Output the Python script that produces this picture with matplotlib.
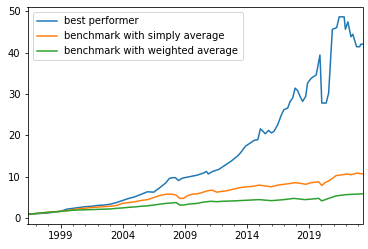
import matplotlib

matplotlib.use("Agg")
import matplotlib.pyplot as plt
from matplotlib.ticker import FixedLocator, MultipleLocator

# values (fractional years)
best_x = [1996.33, 1997.0, 1997.5, 1998.0, 1998.5, 1999.0, 1999.5, 2000.0, 2000.5, 2001.0,
          2001.5, 2002.0, 2002.5, 2003.0, 2003.5, 2004.0, 2004.5, 2005.0, 2005.5, 2006.0,
          2006.5, 2007.0, 2007.5, 2007.75, 2008.0, 2008.25, 2008.5, 2008.75, 2009.0, 2009.5,
          2010.0, 2010.5, 2010.75, 2010.9, 2011.25, 2011.75, 2012.25, 2012.75, 2013.25, 2013.5,
          2013.9, 2014.3, 2014.6, 2014.9, 2015.1, 2015.3, 2015.5, 2015.75, 2016.0, 2016.2,
          2016.5, 2016.8, 2017.0, 2017.3, 2017.5, 2017.7, 2017.9, 2018.1, 2018.3, 2018.5,
          2018.75, 2018.9, 2019.2, 2019.6, 2019.9, 2020.05, 2020.4, 2020.6, 2020.9, 2021.25,
          2021.45, 2021.85, 2021.95, 2022.15, 2022.4, 2022.55, 2022.85, 2023.1, 2023.2, 2023.33]
best_y = [1.0, 1.1, 1.2, 1.3, 1.5, 1.7, 2.2, 2.4, 2.6, 2.8,
          2.9, 3.1, 3.2, 3.4, 3.8, 4.3, 4.8, 5.2, 5.8, 6.4,
          6.3, 7.4, 8.6, 9.6, 9.8, 9.8, 9.1, 9.6, 9.8, 10.1,
          10.4, 10.9, 11.3, 10.7, 11.3, 11.8, 12.8, 13.8, 15.0, 15.8,
          17.4, 18.2, 18.8, 19.0, 21.6, 21.0, 20.4, 21.2, 20.6, 21.0,
          22.6, 25.0, 26.2, 26.6, 28.2, 29.0, 31.4, 30.8, 29.4, 28.2,
          29.4, 32.6, 33.8, 34.6, 39.4, 27.8, 27.8, 30.2, 45.6, 46.0,
          48.6, 48.6, 45.6, 47.4, 43.8, 44.4, 41.4, 41.4, 42.0, 42.0]

simple_x = [1996.33, 1997.0, 1997.5, 1998.0, 1998.5, 1999.0, 1999.5, 2000.0, 2000.5, 2001.0,
            2001.5, 2002.0, 2002.5, 2003.0, 2003.5, 2004.0, 2004.5, 2005.0, 2005.5, 2006.0,
            2006.5, 2007.0, 2007.5, 2008.0, 2008.3, 2008.6, 2008.9, 2009.2, 2009.6, 2010.0,
            2010.4, 2010.8, 2011.2, 2011.6, 2012.0, 2012.5, 2013.0, 2013.5, 2014.0, 2014.5,
            2015.0, 2015.5, 2016.0, 2016.5, 2017.0, 2017.5, 2017.9, 2018.4, 2018.75, 2019.2,
            2019.8, 2020.05, 2020.3, 2020.6, 2020.9, 2021.2, 2021.7, 2022.1, 2022.4, 2022.9,
            2023.33]
simple_y = [1.0, 1.15, 1.3, 1.45, 1.55, 1.7, 1.85, 2.1, 2.3, 2.45,
            2.6, 2.7, 2.8, 2.9, 3.1, 3.6, 3.8, 4.0, 4.3, 4.5,
            5.0, 5.5, 5.8, 5.8, 5.6, 4.8, 4.8, 5.4, 5.8, 5.9,
            6.2, 6.6, 6.8, 6.3, 6.5, 6.7, 7.1, 7.4, 7.6, 7.7,
            8.0, 7.8, 7.6, 8.0, 8.2, 8.4, 8.6, 8.4, 8.2, 8.6,
            8.8, 7.9, 8.6, 9.0, 9.6, 10.3, 10.5, 10.7, 10.5, 10.9,
            10.7]

weighted_x = [1996.33, 1997.0, 1997.5, 1998.0, 1998.5, 1999.0, 1999.5, 2000.0, 2000.5, 2001.0,
              2001.5, 2002.0, 2002.5, 2003.0, 2003.5, 2004.0, 2004.5, 2005.0, 2005.5, 2006.0,
              2006.5, 2007.0, 2007.5, 2008.0, 2008.3, 2008.6, 2008.9, 2009.3, 2010.0, 2010.5,
              2011.1, 2011.6, 2012.0, 2013.0, 2014.0, 2015.0, 2016.0, 2017.0, 2017.8, 2018.7,
              2019.8, 2020.05, 2020.6, 2021.2, 2022.0, 2022.6, 2023.33]
weighted_y = [1.0, 1.15, 1.3, 1.45, 1.55, 1.65, 1.8, 1.95, 2.0, 2.05,
              2.1, 2.15, 2.2, 2.25, 2.4, 2.5, 2.65, 2.75, 2.9, 3.0,
              3.2, 3.4, 3.6, 3.7, 3.8, 3.2, 3.2, 3.4, 3.6, 3.9,
              4.1, 4.0, 4.1, 4.2, 4.35, 4.5, 4.25, 4.5, 4.8, 4.5,
              4.8, 4.2, 4.8, 5.4, 5.7, 5.8, 5.9]

major_years = [1999, 2004, 2009, 2014, 2019]

fig = plt.figure(figsize=(368 / 72, 249 / 72), dpi=72)
ax = fig.add_axes([27.5 / 368, 25 / 249, 335 / 368, 217 / 249])

ax.plot(best_x, best_y, label="best performer")
ax.plot(simple_x, simple_y, label="benchmark with simply average")
ax.plot(weighted_x, weighted_y, label="benchmark with weighted average")

ax.set_xlim(best_x[0], best_x[-1])
ax.xaxis.set_major_locator(FixedLocator(major_years))
ax.xaxis.set_minor_locator(MultipleLocator(1))
ax.set_xticklabels([str(y) for y in major_years])
ax.legend(loc="upper left")

fig.savefig("out.png", dpi=72)
